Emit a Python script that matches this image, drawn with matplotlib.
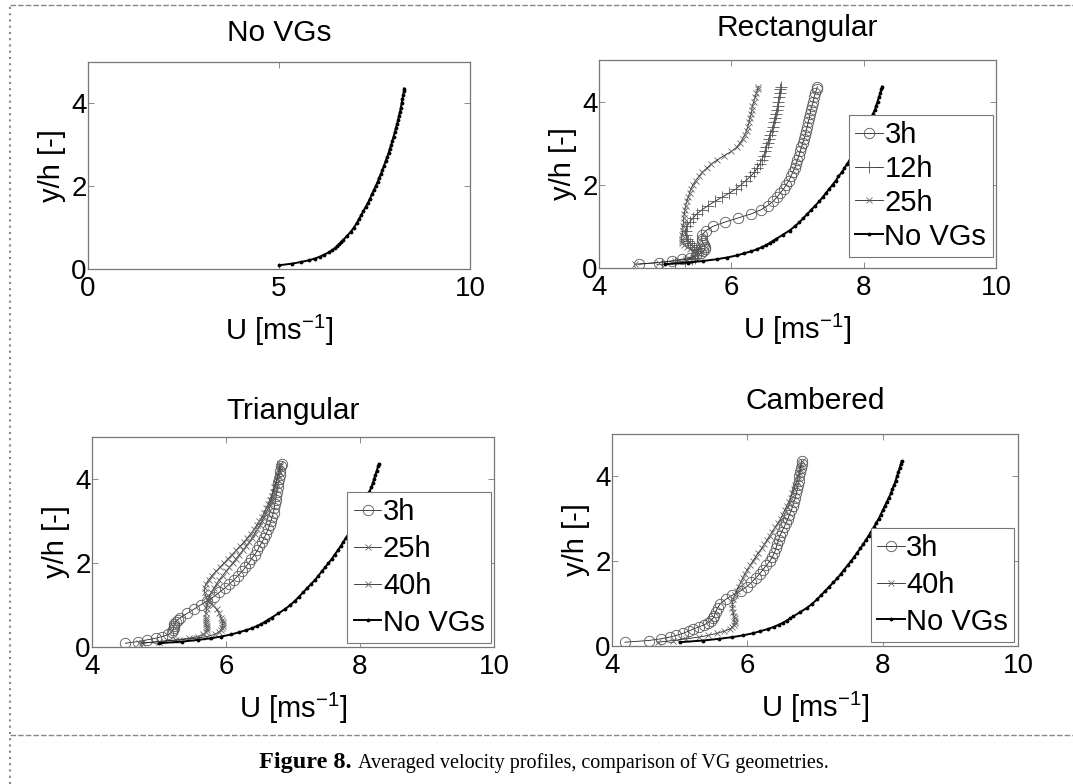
import matplotlib
matplotlib.use("Agg")
import matplotlib.pyplot as plt
from matplotlib.lines import Line2D

plt.rcParams['font.family'] = ['Liberation Sans', 'DejaVu Sans']
plt.rcParams['mathtext.default'] = 'regular'

# Measurement heights y/h shared by all profiles
y_h = [0.09, 0.13, 0.17, 0.21, 0.25, 0.30, 0.35, 0.40, 0.45, 0.50, 0.55, 0.60, 0.65, 0.70,
       0.80, 0.90, 1.00, 1.10, 1.20, 1.30, 1.40, 1.50, 1.60, 1.70, 1.80, 1.90, 2.00, 2.10,
       2.20, 2.30, 2.40, 2.50, 2.60, 2.70, 2.80, 2.90, 3.00, 3.10, 3.20, 3.30, 3.40, 3.50,
       3.60, 3.70, 3.80, 3.90, 4.00, 4.10, 4.20, 4.30, 4.36]

# No VGs reference profile
u_novg = [5.00, 5.35, 5.58, 5.78, 5.93, 6.08, 6.19, 6.30, 6.39, 6.46, 6.53, 6.58, 6.63, 6.68,
          6.78, 6.88, 6.96, 7.03, 7.09, 7.15, 7.21, 7.27, 7.33, 7.38, 7.43, 7.48, 7.53, 7.58,
          7.62, 7.67, 7.71, 7.75, 7.79, 7.83, 7.87, 7.90, 7.94, 7.97, 8.00, 8.03, 8.06, 8.09,
          8.12, 8.14, 8.17, 8.19, 8.21, 8.23, 8.25, 8.27, 8.28]

# Rectangular VGs
rect_3h = [4.60, 4.90, 5.10, 5.25, 5.38, 5.47, 5.54, 5.58, 5.60, 5.60, 5.59, 5.57, 5.56, 5.55,
           5.56, 5.62, 5.72, 5.90, 6.10, 6.30, 6.45, 6.55, 6.63, 6.69, 6.74, 6.79, 6.83, 6.87,
           6.90, 6.93, 6.96, 6.98, 7.00, 7.02, 7.04, 7.06, 7.08, 7.10, 7.12, 7.13, 7.15, 7.16,
           7.18, 7.19, 7.20, 7.22, 7.24, 7.25, 7.27, 7.29, 7.30]
rect_12h = [4.95, 5.15, 5.30, 5.40, 5.45, 5.48, 5.49, 5.48, 5.46, 5.43, 5.40, 5.37, 5.35, 5.33,
            5.31, 5.31, 5.33, 5.37, 5.42, 5.48, 5.56, 5.65, 5.75, 5.86, 5.97, 6.07, 6.15, 6.22,
            6.29, 6.35, 6.39, 6.43, 6.46, 6.49, 6.51, 6.53, 6.55, 6.57, 6.59, 6.61, 6.63, 6.64,
            6.66, 6.67, 6.69, 6.70, 6.71, 6.72, 6.73, 6.74, 6.75]
rect_25h = [4.55, 4.90, 5.15, 5.32, 5.42, 5.46, 5.46, 5.43, 5.38, 5.33, 5.29, 5.26, 5.25, 5.25,
            5.26, 5.27, 5.27, 5.28, 5.28, 5.29, 5.30, 5.31, 5.33, 5.35, 5.37, 5.39, 5.42, 5.46,
            5.51, 5.56, 5.63, 5.70, 5.79, 5.89, 6.00, 6.08, 6.13, 6.17, 6.20, 6.23, 6.25, 6.27,
            6.28, 6.30, 6.31, 6.32, 6.34, 6.36, 6.38, 6.40, 6.41]

# Triangular VGs
tri_3h = [4.50, 4.68, 4.82, 4.95, 5.05, 5.14, 5.19, 5.21, 5.22, 5.22, 5.23, 5.25, 5.28, 5.32,
          5.42, 5.52, 5.62, 5.72, 5.82, 5.90, 5.98, 6.05, 6.12, 6.18, 6.24, 6.29, 6.34, 6.38,
          6.43, 6.47, 6.50, 6.54, 6.57, 6.60, 6.63, 6.65, 6.67, 6.69, 6.71, 6.72, 6.73, 6.74,
          6.75, 6.76, 6.77, 6.78, 6.79, 6.80, 6.81, 6.82, 6.83]
tri_25h = [4.75, 5.00, 5.25, 5.45, 5.58, 5.66, 5.70, 5.72, 5.72, 5.71, 5.70, 5.70, 5.70, 5.70,
           5.70, 5.71, 5.72, 5.73, 5.75, 5.78, 5.82, 5.86, 5.90, 5.95, 6.00, 6.05, 6.10, 6.15,
           6.20, 6.25, 6.30, 6.35, 6.39, 6.43, 6.47, 6.51, 6.54, 6.57, 6.60, 6.63, 6.65, 6.67,
           6.69, 6.71, 6.73, 6.75, 6.76, 6.78, 6.79, 6.80, 6.81]
tri_40h = [4.70, 5.00, 5.30, 5.55, 5.72, 5.83, 5.89, 5.92, 5.94, 5.95, 5.95, 5.95, 5.94, 5.93,
           5.90, 5.86, 5.80, 5.74, 5.70, 5.68, 5.68, 5.70, 5.74, 5.79, 5.85, 5.91, 5.97, 6.03,
           6.09, 6.15, 6.21, 6.27, 6.32, 6.37, 6.42, 6.46, 6.50, 6.54, 6.57, 6.60, 6.63, 6.65,
           6.68, 6.70, 6.72, 6.74, 6.76, 6.77, 6.79, 6.80, 6.81]

# Cambered VGs
camb_3h = [4.19, 4.54, 4.72, 4.85, 4.95, 5.05, 5.13, 5.20, 5.28, 5.36, 5.42, 5.46, 5.49, 5.51,
           5.53, 5.56, 5.60, 5.68, 5.78, 5.90, 5.99, 6.06, 6.12, 6.18, 6.23, 6.28, 6.33, 6.37,
           6.40, 6.42, 6.44, 6.46, 6.48, 6.51, 6.54, 6.57, 6.60, 6.62, 6.65, 6.67, 6.69, 6.71,
           6.72, 6.74, 6.75, 6.76, 6.77, 6.78, 6.79, 6.80, 6.80]
camb_40h = [4.68, 4.90, 5.10, 5.28, 5.42, 5.55, 5.66, 5.74, 5.78, 5.80, 5.81, 5.81, 5.81, 5.80,
            5.79, 5.78, 5.78, 5.79, 5.81, 5.84, 5.87, 5.90, 5.93, 5.96, 6.00, 6.04, 6.08, 6.12,
            6.16, 6.21, 6.25, 6.29, 6.33, 6.37, 6.41, 6.45, 6.49, 6.52, 6.55, 6.58, 6.61, 6.64,
            6.66, 6.69, 6.71, 6.73, 6.75, 6.77, 6.78, 6.79, 6.80]

# marker styles per case
styles = {
    '3h': dict(marker='o', ms=7.5, mfc='none', mec='#555555', mew=0.6),
    '12h': dict(marker='+', ms=8, mec='#555555', mew=0.6),
    '25h': dict(marker='x', ms=5, mec='#666666', mew=0.6),
    '40h': dict(marker='x', ms=5, mec='#666666', mew=0.6),
}

fig = plt.figure(figsize=(10.73, 7.84), dpi=100)

# title, axes rect, x ticks, series, title pad, legend anchor, legend spacing
panels = [
    ('No VGs', [0.0820, 0.6569, 0.3560, 0.2640], [0, 5, 10], [], 15, None, 0),
    ('Rectangular', [0.5582, 0.6582, 0.3700, 0.2653], [4, 6, 8, 10],
     [('3h', rect_3h), ('12h', rect_12h), ('25h', rect_25h)], 17, (0.992, 0.053), 0.2),
    ('Triangular', [0.0857, 0.1747, 0.3747, 0.2679], [4, 6, 8, 10],
     [('3h', tri_3h), ('25h', tri_25h), ('40h', tri_40h)], 13, (0.993, 0.019), 0.3),
    ('Cambered', [0.5704, 0.1760, 0.3784, 0.2704], [4, 6, 8, 10],
     [('3h', camb_3h), ('40h', camb_40h)], 18, (0.991, 0.019), 0.3),
]

for title, rect, xt, series, tpad, anchor, lsp in panels:
    ax = fig.add_axes(rect)
    for lab, u in series:
        ax.plot(u, y_h, color='#222222', lw=0.6, label=lab, **styles[lab])
    ax.plot(u_novg, y_h, color='black', lw=1.4, marker='.', ms=3.5, label='No VGs')
    ax.set_xlim(xt[0], xt[-1])
    ax.set_ylim(0, 5)
    ax.set_xticks(xt)
    ax.set_yticks([0, 2, 4])
    ax.tick_params(direction='in', length=4, width=0.6, color='#777777',
                   top=True, right=True, labelsize=20)
    ax.tick_params(axis='x', pad=5)
    ax.tick_params(axis='y', pad=1)
    for sp in ax.spines.values():
        sp.set_color('#777777')
        sp.set_linewidth(0.9)
    ax.set_xlabel('U [ms$^{-1}$]', fontsize=21, labelpad=8)
    ax.set_ylabel('y/h [-]', fontsize=21, labelpad=4)
    ax.set_title(title, fontsize=21.5, pad=tpad)
    if series:
        leg = ax.legend(loc='lower right', bbox_to_anchor=anchor, borderaxespad=0,
                        fontsize=21, fancybox=False, framealpha=1, edgecolor='#777777',
                        handlelength=0.95, handletextpad=0.05, labelspacing=lsp,
                        borderpad=0.22)
        leg.get_frame().set_linewidth(0.8)

# page decorations: dashed frame lines
fig.add_artist(Line2D([0.009, 1.0], [0.993, 0.993], color='#888888', lw=1, ls=(0, (4, 1.5))))
fig.add_artist(Line2D([0.009, 1.0], [0.062, 0.062], color='#888888', lw=1, ls=(0, (4, 1.5))))
fig.add_artist(Line2D([0.009, 0.009], [0.0, 0.993], color='#888888', lw=1.5, ls=(0, (1, 2))))

# caption
fig.text(0.328, 0.02, 'Figure 8.', family='Liberation Serif', weight='bold',
         fontsize=17.5, ha='right', va='baseline')
fig.text(0.3335, 0.02, 'Averaged velocity profiles, comparison of VG geometries.',
         family='Liberation Serif', fontsize=14.5, ha='left', va='baseline')

fig.savefig('out.png', dpi=100)
